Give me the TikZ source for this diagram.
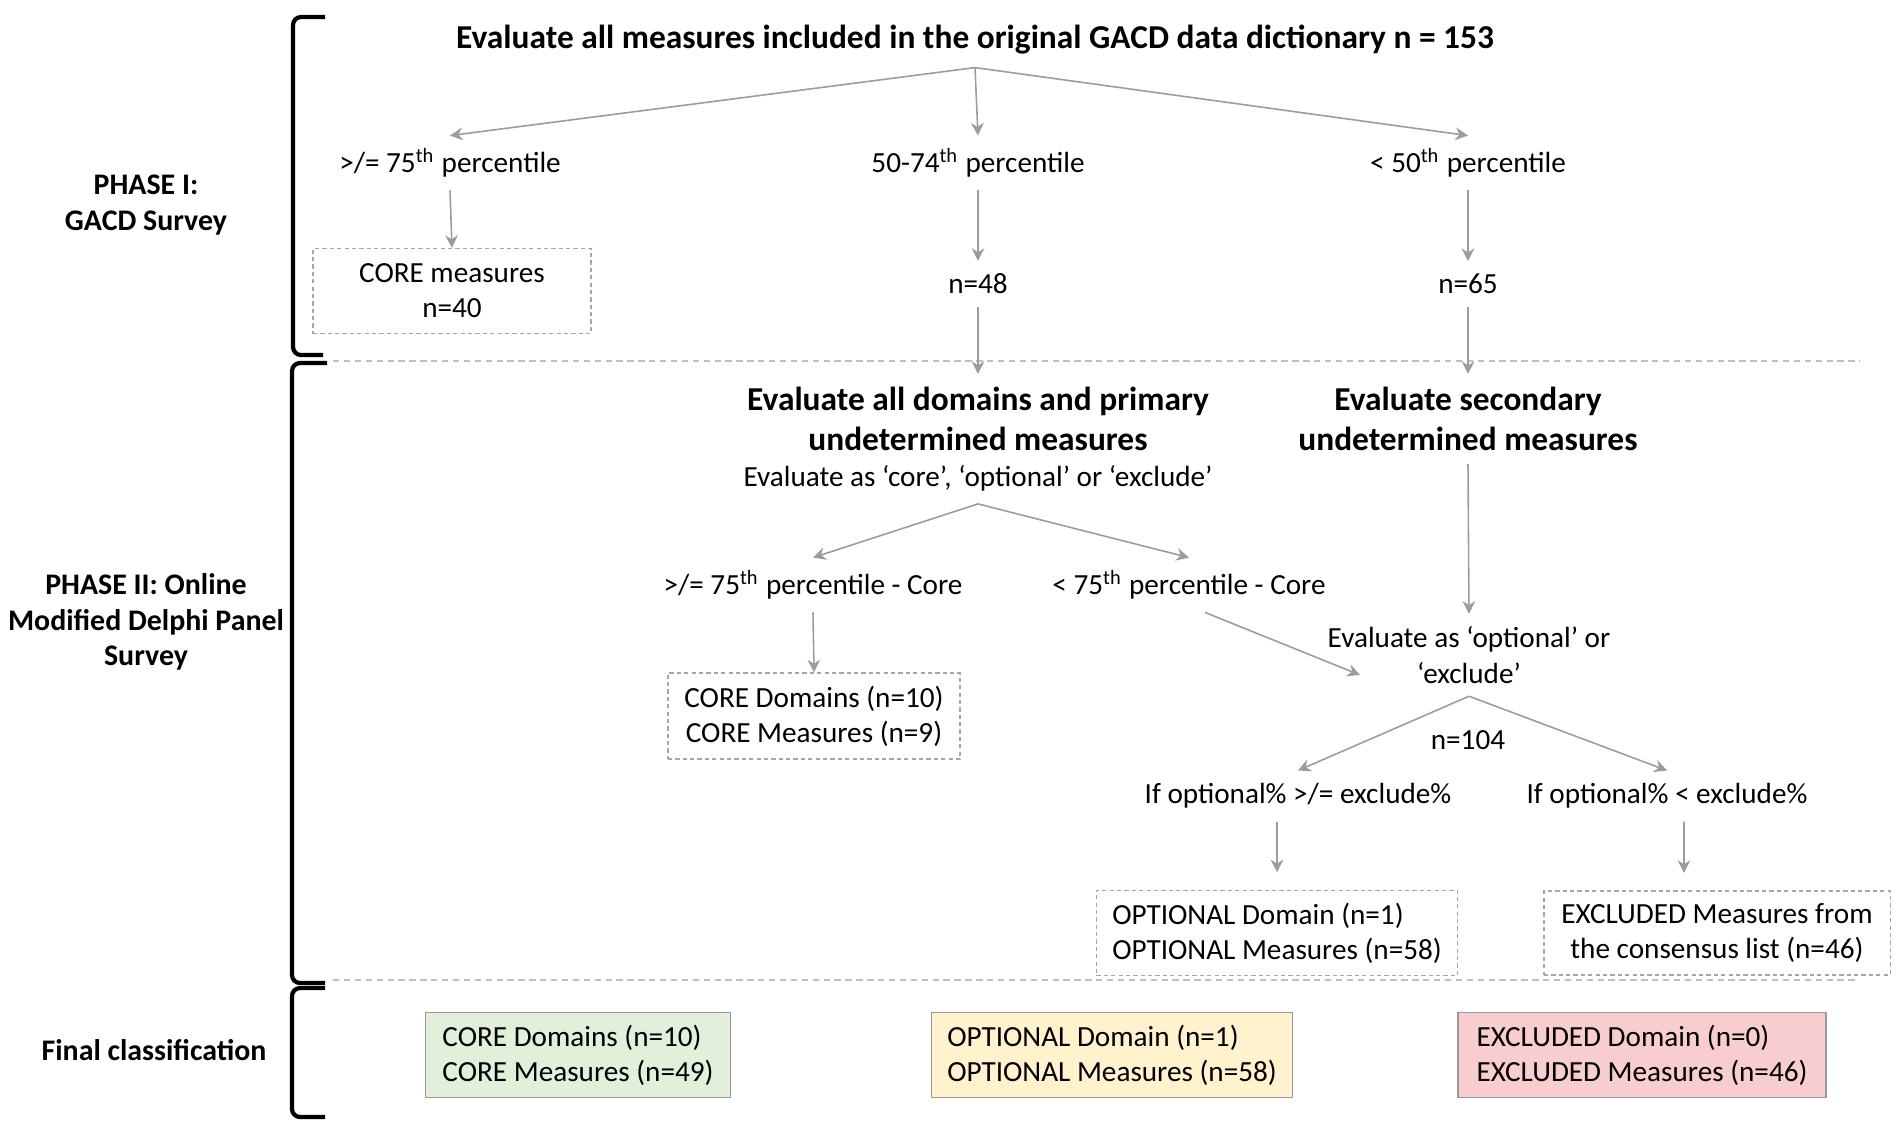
\documentclass[tikz,border=0pt]{standalone}
\usepackage{fontspec}
\setmainfont{Carlito}
\usetikzlibrary{arrows.meta}
\definecolor{arrgray}{HTML}{9C9C9C}
\definecolor{coreg}{HTML}{E2EFDA}
\definecolor{opty}{HTML}{FFF2CC}
\definecolor{excr}{HTML}{F8CDD0}
\begin{document}
\begin{tikzpicture}[x=0.01cm,y=-0.01cm,
  arr/.style={draw=arrgray,line width=0.45pt,-{Stealth[length=3.6pt,width=3.6pt]}},
  lbl/.style={font=\fontsize{8.3}{10}\selectfont,align=center,inner sep=3.5pt},
  hd/.style={font=\fontsize{9.5}{11.5}\selectfont\bfseries,align=center,inner sep=3.5pt},
  ph/.style={font=\fontsize{8.5}{10}\selectfont\bfseries,align=center},
  dbox/.style={lbl,draw=gray!70,dash pattern=on 1.2pt off 0.9pt,line width=0.35pt},
  fbox/.style={lbl,draw=gray!80,line width=0.4pt,align=left,minimum height=0.85cm},
  sep/.style={draw=gray!50,dash pattern=on 1.8pt off 1.3pt,line width=0.4pt},
  brk/.style={line width=1.2pt,rounded corners=0.08cm}]
\useasboundingbox (0,0) rectangle (1902,1129);

% phase labels and brackets
\node[ph] (ph1) at (146,205) {PHASE I:\\GACD Survey};
\node[ph] (ph2) at (146,622) {PHASE II: Online\\Modified Delphi Panel\\Survey};
\node[ph] (ph3) at (154,1050) {Final classification};
\draw[brk] (325,17) -- (293,17) -- (293,355) -- (323,355);
\draw[brk] (327,363) -- (292,363) -- (292,983) -- (325,983);
\draw[brk] (325,988) -- (292,988) -- (292,1117) -- (325,1117);
\draw[sep] (333,361) -- (1860,361);
\draw[sep] (333,980) -- (1856,980);

% phase I
\node[hd] (top) at (975,40) {Evaluate all measures included in the original GACD data dictionary n = 153};
\node[lbl] (p75) at (450,163) {>/= 75\textsuperscript{th} percentile};
\node[lbl] (p50) at (978,163) {50-74\textsuperscript{th} percentile};
\node[lbl] (p0) at (1468,163) {< 50\textsuperscript{th} percentile};
\node[dbox,minimum width=2.78cm,minimum height=0.85cm] (core1) at (452,291) {CORE measures\\n=40};
\node[lbl] (n48) at (978,284) {n=48};
\node[lbl] (n65) at (1468,284) {n=65};
\draw[arr] (top.south) -- (p75.north);
\draw[arr] (top.south) -- (p50.north);
\draw[arr] (top.south) -- (p0.north);
\draw[arr] (p75.south) -- (core1.north);
\draw[arr] (p50.south) -- (n48.north);
\draw[arr] (p0.south) -- (n65.north);

% phase II
\node[hd] (dom) at (978,419) {Evaluate all domains and primary\\undetermined measures};
\node[lbl] (asall) at (978,478) {Evaluate as ‘core’, ‘optional’ or ‘exclude’};
\node[hd] (sec) at (1468,419) {Evaluate secondary\\undetermined measures};
\node[lbl] (c75) at (813,585) {>/= 75\textsuperscript{th} percentile - Core};
\node[lbl] (u75) at (1189,585) {< 75\textsuperscript{th} percentile - Core};
\node[dbox,minimum width=2.92cm,minimum height=0.86cm] (core2) at (814,716) {CORE Domains (n=10)\\CORE Measures (n=9)};
\node[lbl] (asopt) at (1469,655) {Evaluate as ‘optional’ or\\‘exclude’};
\coordinate (optin) at (1360,675);
\node[lbl] (n104) at (1468,740) {n=104};
\node[lbl] (ifge) at (1298,796) {If optional\% >/= exclude\%};
\node[lbl] (iflt) at (1667,796) {If optional\% < exclude\%};
\node[dbox,align=left,minimum width=3.61cm,minimum height=0.83cm] (opt) at (1277,933) {OPTIONAL Domain (n=1)\\OPTIONAL Measures (n=58)};
\node[dbox,minimum width=3.46cm,minimum height=0.83cm] (exc) at (1717,933) {EXCLUDED Measures from\\the consensus list (n=46)};
\draw[arr] (n48.south) -- (dom.north);
\draw[arr] (n65.south) -- (sec.north);
\draw[arr] (asall.south) -- (c75.north);
\draw[arr] (asall.south) -- (u75.north);
\draw[arr] (c75.south) -- (core2.north);
\draw[arr] ([xshift=0.16cm]u75.south) -- (optin);
\draw[arr] (sec.south) -- (asopt.north);
\draw[arr] (asopt.south) -- (ifge.north);
\draw[arr] (asopt.south) -- (iflt.north);
\draw[arr,shorten >=5pt] (opt.north |- ifge.south) -- (opt.north);
\draw[arr,shorten >=5pt] ([xshift=0.17cm]iflt.south) -- ([xshift=-0.33cm]exc.north);

% final classification
\node[fbox,fill=coreg,minimum width=3.05cm] (fcore) at (578,1055) {CORE Domains (n=10)\\CORE Measures (n=49)};
\node[fbox,fill=opty,minimum width=3.61cm] (fopt) at (1112,1055) {OPTIONAL Domain (n=1)\\OPTIONAL Measures (n=58)};
\node[fbox,fill=excr,minimum width=3.68cm] (fexc) at (1642,1055) {EXCLUDED Domain (n=0)\\EXCLUDED Measures (n=46)};
\end{tikzpicture}
\end{document}
